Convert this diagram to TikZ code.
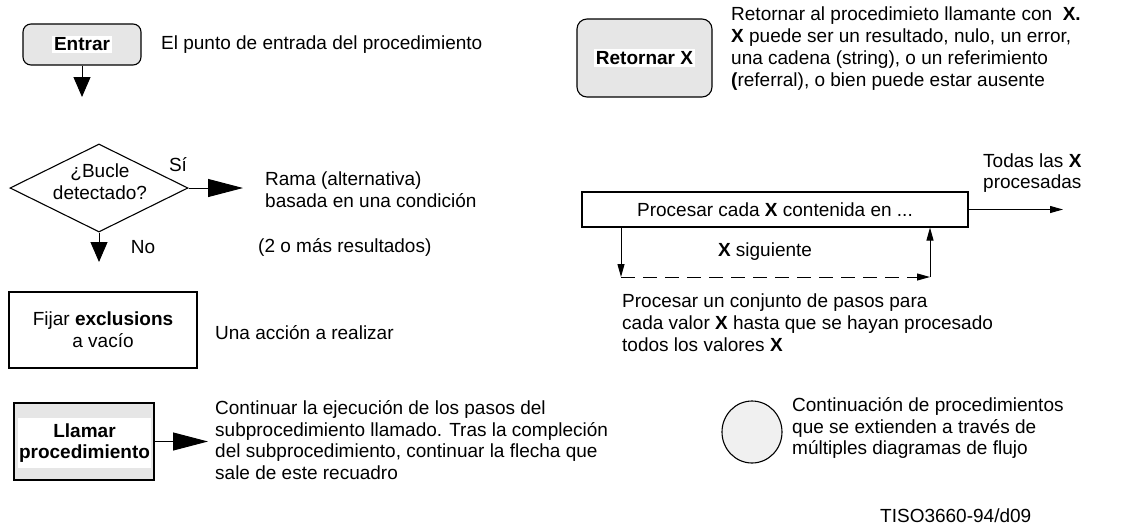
\documentclass[tikz,border=0pt]{standalone}
\usepackage{fontspec}
\setmainfont{Liberation Sans}
\usetikzlibrary{arrows.meta,shapes.geometric}
\newcommand\mainsize{\fontsize{19}{21.8}\selectfont}
\definecolor{boxgray}{HTML}{E6E6E6}
\definecolor{circgray}{HTML}{F0F0F0}
\tikzset{
  tx/.style={font=\mainsize, inner sep=0pt, align=left},
  rbox/.style={draw, fill=boxgray, rounded corners=8pt, line width=1.1pt},
  plainbox/.style={draw, line width=1.1pt, inner sep=0pt},
  whitelbl/.style={fill=white, font=\mainsize\bfseries, inner sep=2pt, align=center},
  bigarrow/.style={line width=1pt, -{Triangle[length=20pt,width=17pt]}},
  longarrow/.style={line width=1pt, -{Triangle[length=35pt,width=18pt]}},
  smallarrow/.style={line width=1pt, -{Triangle[length=13pt,width=7pt]}},
}
\begin{document}
\begin{tikzpicture}[x=1pt,y=-1pt]
\useasboundingbox (0,0) rectangle (1125,528);

% Entrar
\node[rbox, minimum width=118pt, minimum height=41pt] (entrar) at (82,44.5) {};
\node[whitelbl] (entrarlbl) at (entrar) {Entrar};
\coordinate (entrarend) at (82,97);
\draw[bigarrow] (entrar.south) -- (entrarend);
\node[tx, anchor=west] (entrartxt) at (161,45) {El punto de entrada del procedimiento};

% Retornar
\node[rbox, rounded corners=10pt, minimum width=135pt, minimum height=78pt] (ret) at (644.5,58) {};
\node[whitelbl] (retlbl) at (ret) {Retornar X};
\node[tx, anchor=west] (rettxt) at (731,48.5) {Retornar al procedimieto llamante con \ \textbf{X.}\\
\textbf{X} puede ser un resultado, nulo, un error,\\
una cadena (string), o un referimiento\\
\textbf{(}referral), o bien puede estar ausente};

% Diamond
\node[diamond, draw, line width=1.1pt, minimum width=178pt, minimum height=88pt, inner sep=0pt] (dia) at (99,188) {};
\node[tx, align=center] (diatxt) at (100,182) {¿Bucle\\detectado?};
\coordinate (siend) at (243,188);
\coordinate (noend) at (99,262);
\draw[longarrow] (dia.east) -- (siend);
\draw[bigarrow] (dia.south) -- (noend);
\node[tx] (si) at (178,165) {Sí};
\node[tx] (no) at (143,247) {No};
\node[tx, anchor=west] (ramatxt) at (265,190) {Rama (alternativa)\\basada en una condición};
\node[tx, anchor=west] (resul) at (258,247) {(2 o más resultados)};

% Process each
\node[plainbox, minimum width=386pt, minimum height=35pt, font=\mainsize] (proc) at (775,209.5) {Procesar cada \textbf{X} contenida en ...};
\coordinate (allend) at (1063,209.5);
\draw[smallarrow] (proc.east) -- (allend);
\node[tx, anchor=west] (todas) at (983,173) {Todas las \textbf{X}\\procesadas};
\coordinate (loopA) at (621,277);
\coordinate (loopB) at (930,277);
\draw[smallarrow] (proc.south -| loopA) -- (loopA);
\draw[smallarrow, dash pattern=on 14pt off 8pt] (loopA) -- (loopB);
\draw[smallarrow] (loopB) -- (proc.south -| loopB);
\node[tx] (sig) at (765,252) {\textbf{X} siguiente};
\node[tx, anchor=west] (proctxt) at (622,323) {Procesar un conjunto de pasos para\\
cada valor \textbf{X} hasta que se hayan procesado\\
todos los valores \textbf{X}};

% Fijar
\node[plainbox, fill=white, minimum width=188pt, minimum height=76pt, font=\mainsize, align=center] (fijar) at (103,330) {Fijar \textbf{exclusions}\\a vacío};
\node[tx, anchor=west] (fijartxt) at (215,333) {Una acción a realizar};

% Llamar
\node[plainbox, fill=boxgray, minimum width=140pt, minimum height=77pt] (llamar) at (84,441.5) {};
\node[fill=white, minimum width=133pt, minimum height=50pt, inner sep=0pt] (llamarin) at (84.5,443) {};
\node[tx, align=center, font=\mainsize\bfseries] (llamarlbl) at (llamarin) {Llamar\\procedimiento};
\coordinate (llamarend) at (208,441.5);
\draw[longarrow] (llamar.east) -- (llamarend);
\node[tx, anchor=west] (llamartxt) at (215,440) {Continuar la ejecución de los pasos del\\
subprocedimiento llamado. Tras la compleción\\
del subprocedimiento, continuar la flecha que\\
sale de este recuadro};

% Connector circle
\node[ellipse, draw, line width=1.1pt, fill=circgray, minimum width=60pt, minimum height=62pt, inner sep=0pt] (circ) at (752,432) {};
\node[tx, anchor=west] (circtxt) at (792,428) {Continuación de procedimientos\\
que se extienden a través de\\
múltiples diagramas de flujo};

\node[tx, anchor=west] (tiso) at (880,516) {TISO3660-94/d09};
\end{tikzpicture}
\end{document}
